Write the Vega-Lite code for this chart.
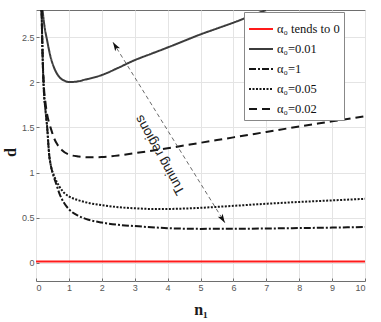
{
  "$schema": "https://vega.github.io/schema/vega-lite/v6.json",
  "width": 329,
  "height": 271,
  "autosize": {"type": "none"},
  "padding": {"left": 36, "top": 10, "right": 16, "bottom": 41},
  "background": "white",
  "config": {
    "font": "Liberation Sans",
    "view": {"stroke": "#6e6e6e", "strokeWidth": 1},
    "axis": {
      "grid": true,
      "gridColor": "#e4e4e4",
      "gridWidth": 1,
      "domain": false,
      "tickSize": -3,
      "tickColor": "#6e6e6e",
      "labelFont": "Liberation Sans",
      "labelFontSize": 9,
      "labelColor": "#555555",
      "labelPadding": 5,
      "titleFont": "Liberation Serif",
      "titleFontWeight": "bold",
      "titleFontSize": 16,
      "titleColor": "#1a1a1a"
    }
  },
  "datasets": {
    "curves": [
      {"series": "α₀ tends to 0", "x": 0, "y": 0.015},
      {"series": "α₀ tends to 0", "x": 10, "y": 0.015},

      {"series": "α₀=0.01", "x": 0.2, "y": 2.8},
      {"series": "α₀=0.01", "x": 0.25, "y": 2.64},
      {"series": "α₀=0.01", "x": 0.34, "y": 2.46},
      {"series": "α₀=0.01", "x": 0.43, "y": 2.3},
      {"series": "α₀=0.01", "x": 0.53, "y": 2.18},
      {"series": "α₀=0.01", "x": 0.63, "y": 2.1},
      {"series": "α₀=0.01", "x": 0.73, "y": 2.05},
      {"series": "α₀=0.01", "x": 0.85, "y": 2.02},
      {"series": "α₀=0.01", "x": 1.0, "y": 2.003},
      {"series": "α₀=0.01", "x": 1.2, "y": 2.006},
      {"series": "α₀=0.01", "x": 1.5, "y": 2.03},
      {"series": "α₀=0.01", "x": 2.0, "y": 2.08},
      {"series": "α₀=0.01", "x": 2.5, "y": 2.16},
      {"series": "α₀=0.01", "x": 3.0, "y": 2.245},
      {"series": "α₀=0.01", "x": 3.5, "y": 2.315},
      {"series": "α₀=0.01", "x": 4.0, "y": 2.385},
      {"series": "α₀=0.01", "x": 4.5, "y": 2.458},
      {"series": "α₀=0.01", "x": 5.0, "y": 2.53},
      {"series": "α₀=0.01", "x": 5.5, "y": 2.595},
      {"series": "α₀=0.01", "x": 6.0, "y": 2.66},
      {"series": "α₀=0.01", "x": 6.5, "y": 2.73},
      {"series": "α₀=0.01", "x": 7.0, "y": 2.8},

      {"series": "α₀=1", "x": 0.17, "y": 2.8},
      {"series": "α₀=1", "x": 0.2, "y": 2.3},
      {"series": "α₀=1", "x": 0.24, "y": 1.9},
      {"series": "α₀=1", "x": 0.28, "y": 1.72},
      {"series": "α₀=1", "x": 0.34, "y": 1.5},
      {"series": "α₀=1", "x": 0.4, "y": 1.2},
      {"series": "α₀=1", "x": 0.45, "y": 1.08},
      {"series": "α₀=1", "x": 0.51, "y": 0.99},
      {"series": "α₀=1", "x": 0.61, "y": 0.88},
      {"series": "α₀=1", "x": 0.71, "y": 0.77},
      {"series": "α₀=1", "x": 0.86, "y": 0.66},
      {"series": "α₀=1", "x": 1.0, "y": 0.595},
      {"series": "α₀=1", "x": 1.3, "y": 0.52},
      {"series": "α₀=1", "x": 1.6, "y": 0.478},
      {"series": "α₀=1", "x": 2.0, "y": 0.447},
      {"series": "α₀=1", "x": 2.5, "y": 0.422},
      {"series": "α₀=1", "x": 3.0, "y": 0.408},
      {"series": "α₀=1", "x": 3.5, "y": 0.395},
      {"series": "α₀=1", "x": 4.0, "y": 0.385},
      {"series": "α₀=1", "x": 5.0, "y": 0.377},
      {"series": "α₀=1", "x": 6.0, "y": 0.378},
      {"series": "α₀=1", "x": 7.0, "y": 0.381},
      {"series": "α₀=1", "x": 8.0, "y": 0.386},
      {"series": "α₀=1", "x": 9.0, "y": 0.391},
      {"series": "α₀=1", "x": 10.0, "y": 0.398},

      {"series": "α₀=0.05", "x": 0.17, "y": 2.8},
      {"series": "α₀=0.05", "x": 0.2, "y": 2.3},
      {"series": "α₀=0.05", "x": 0.24, "y": 1.9},
      {"series": "α₀=0.05", "x": 0.28, "y": 1.72},
      {"series": "α₀=0.05", "x": 0.34, "y": 1.5},
      {"series": "α₀=0.05", "x": 0.4, "y": 1.2},
      {"series": "α₀=0.05", "x": 0.45, "y": 1.08},
      {"series": "α₀=0.05", "x": 0.56, "y": 0.956},
      {"series": "α₀=0.05", "x": 0.71, "y": 0.847},
      {"series": "α₀=0.05", "x": 0.86, "y": 0.774},
      {"series": "α₀=0.05", "x": 1.0, "y": 0.737},
      {"series": "α₀=0.05", "x": 1.3, "y": 0.693},
      {"series": "α₀=0.05", "x": 1.6, "y": 0.664},
      {"series": "α₀=0.05", "x": 2.0, "y": 0.64},
      {"series": "α₀=0.05", "x": 2.5, "y": 0.617},
      {"series": "α₀=0.05", "x": 3.0, "y": 0.605},
      {"series": "α₀=0.05", "x": 3.5, "y": 0.598},
      {"series": "α₀=0.05", "x": 4.0, "y": 0.598},
      {"series": "α₀=0.05", "x": 5.0, "y": 0.61},
      {"series": "α₀=0.05", "x": 6.0, "y": 0.632},
      {"series": "α₀=0.05", "x": 7.0, "y": 0.655},
      {"series": "α₀=0.05", "x": 8.0, "y": 0.675},
      {"series": "α₀=0.05", "x": 9.0, "y": 0.692},
      {"series": "α₀=0.05", "x": 10.0, "y": 0.71},

      {"series": "α₀=0.02", "x": 0.17, "y": 2.8},
      {"series": "α₀=0.02", "x": 0.2, "y": 2.32},
      {"series": "α₀=0.02", "x": 0.24, "y": 1.95},
      {"series": "α₀=0.02", "x": 0.28, "y": 1.8},
      {"series": "α₀=0.02", "x": 0.34, "y": 1.64},
      {"series": "α₀=0.02", "x": 0.4, "y": 1.55},
      {"series": "α₀=0.02", "x": 0.45, "y": 1.49},
      {"series": "α₀=0.02", "x": 0.55, "y": 1.38},
      {"series": "α₀=0.02", "x": 0.65, "y": 1.31},
      {"series": "α₀=0.02", "x": 0.8, "y": 1.245},
      {"series": "α₀=0.02", "x": 1.0, "y": 1.2},
      {"series": "α₀=0.02", "x": 1.3, "y": 1.178},
      {"series": "α₀=0.02", "x": 1.6, "y": 1.17},
      {"series": "α₀=0.02", "x": 2.0, "y": 1.172},
      {"series": "α₀=0.02", "x": 2.5, "y": 1.19},
      {"series": "α₀=0.02", "x": 3.0, "y": 1.215},
      {"series": "α₀=0.02", "x": 4.0, "y": 1.27},
      {"series": "α₀=0.02", "x": 5.0, "y": 1.33},
      {"series": "α₀=0.02", "x": 6.0, "y": 1.39},
      {"series": "α₀=0.02", "x": 7.0, "y": 1.45},
      {"series": "α₀=0.02", "x": 8.0, "y": 1.51},
      {"series": "α₀=0.02", "x": 9.0, "y": 1.567},
      {"series": "α₀=0.02", "x": 10.0, "y": 1.625}
    ],
    "arrow": [
      {"end": "start", "x": 2.34, "y": 2.443},
      {"end": "finish", "x": 5.74, "y": 0.445}
    ],
    "note": [
      {"x": 3.77, "y": 1.195, "label": "Tuning regions"}
    ]
  },
  "encoding": {
    "x": {
      "field": "x", "type": "quantitative",
      "scale": {"domain": [0, 10], "nice": false, "zero": false},
      "axis": {"values": [0,1,2,3,4,5,6,7,8,9,10], "title": "n₁", "titleX": 164.5, "titleY": 33, "titleBaseline": "alphabetic", "titleAnchor": null}
    },
    "y": {
      "field": "y", "type": "quantitative",
      "scale": {"domain": [-0.2, 2.8], "nice": false, "zero": false},
      "axis": {"values": [0, 0.5, 1, 1.5, 2, 2.5], "format": "~g", "title": "d", "titleX": -21, "titleY": 142, "titleBaseline": "alphabetic", "titleAngle": -90}
    }
  },
  "layer": [
    {
      "data": {"name": "curves"},
      "mark": {"type": "line", "clip": true, "strokeWidth": 2, "interpolate": "monotone"},
      "encoding": {
        "color": {
          "field": "series", "type": "nominal",
          "scale": {
            "domain": ["α₀ tends to 0", "α₀=0.01", "α₀=1", "α₀=0.05", "α₀=0.02"],
            "range": ["#ff1a1a", "#3c3c3c", "#161616", "#161616", "#161616"]
          },
          "legend": {
            "title": null, "orient": "none", "legendX": 208, "legendY": 2,
            "symbolType": "stroke", "symbolSize": 576, "symbolStrokeWidth": 2,
            "labelFont": "Liberation Serif", "labelFontSize": 12.5, "labelColor": "#111111",
            "labelOffset": 3, "fillColor": "white", "strokeColor": "#888888",
            "padding": 4, "rowPadding": -5
          }
        },
        "strokeDash": {
          "field": "series", "type": "nominal",
          "scale": {
            "domain": ["α₀ tends to 0", "α₀=0.01", "α₀=1", "α₀=0.05", "α₀=0.02"],
            "range": [[1, 0], [1, 0], [7, 2, 2, 2], [2, 1.5], [8, 5]]
          },
          "legend": {
            "title": null, "orient": "none", "legendX": 208, "legendY": 2,
            "symbolType": "stroke", "symbolSize": 576, "symbolStrokeWidth": 2,
            "labelFont": "Liberation Serif", "labelFontSize": 12.5, "labelColor": "#111111",
            "labelOffset": 3, "fillColor": "white", "strokeColor": "#888888",
            "padding": 4, "rowPadding": -5
          }
        }
      }
    },
    {
      "data": {"name": "arrow"},
      "mark": {"type": "line", "stroke": "#444444", "strokeWidth": 0.8, "strokeDash": [4, 3]},
      "encoding": {}
    },
    {
      "data": {"name": "arrow"},
      "transform": [{"filter": "datum.end === 'start'"}],
      "mark": {"type": "point", "shape": "M0,0L0.45,1.4L0,1.05L-0.45,1.4Z", "filled": true, "color": "#111111", "size": 160, "angle": 328.3, "opacity": 1},
      "encoding": {}
    },
    {
      "data": {"name": "arrow"},
      "transform": [{"filter": "datum.end === 'finish'"}],
      "mark": {"type": "point", "shape": "M0,0L0.45,1.4L0,1.05L-0.45,1.4Z", "filled": true, "color": "#111111", "size": 160, "angle": 148.3, "opacity": 1},
      "encoding": {}
    },
    {
      "data": {"name": "note"},
      "mark": {"type": "text", "angle": 241, "font": "Liberation Sans", "fontSize": 13.5, "color": "#222222", "align": "center", "baseline": "middle"},
      "encoding": {"text": {"field": "label"}}
    }
  ]
}
